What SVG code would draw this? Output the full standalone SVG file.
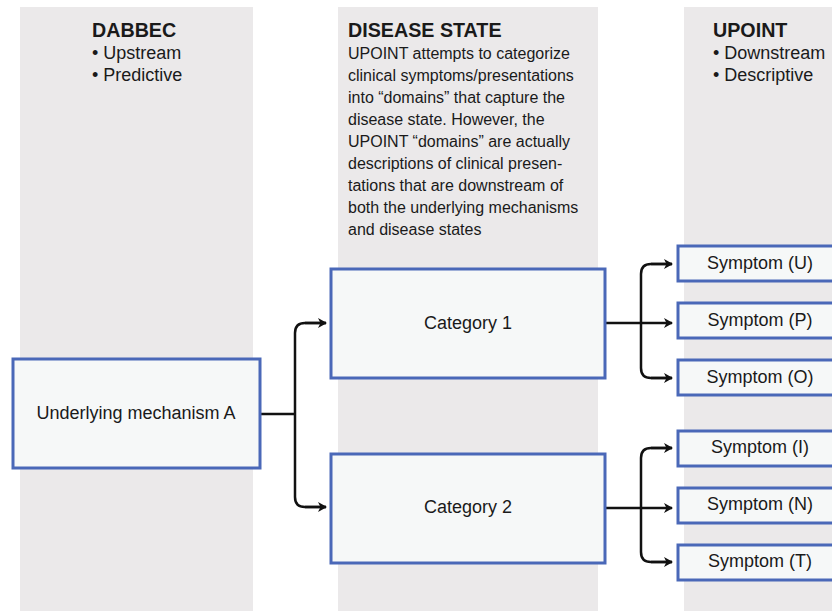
<svg xmlns="http://www.w3.org/2000/svg" width="832" height="611" viewBox="0 0 832 611">
<defs>
<style>
.col{fill:#ebe9ea}
.box{fill:#f6f8f8;stroke:#4a68b8;stroke-width:3}
.t{font-family:"Liberation Sans",Arial,sans-serif;fill:#1a1a1a}
.h{font-size:19.7px;font-weight:bold}
.b{font-size:18px}
.p{font-size:16px}
.n{font-size:18px;text-anchor:middle;dominant-baseline:central}
.c{fill:none;stroke:#111;stroke-width:2.5}
</style>
<marker id="ah" markerWidth="10" markerHeight="10" refX="8" refY="5" orient="auto" markerUnits="userSpaceOnUse">
<path d="M0,0 L9,5 L0,10 L2.5,5 Z" fill="#111"/>
</marker>
</defs>
<rect width="832" height="611" fill="#fff"/>
<rect class="col" x="20" y="7" width="233" height="604"/>
<rect class="col" x="338" y="7" width="260" height="604"/>
<rect class="col" x="684" y="7" width="148" height="604"/>

<g id="header-dabbec" class="t">
<text class="h" x="92" y="37">DABBEC</text>
<text class="b" x="92" y="59">• Upstream</text>
<text class="b" x="92" y="81">• Predictive</text>
</g>
<g id="header-disease" class="t">
<text class="h" x="348" y="37">DISEASE STATE</text>
<text class="p" x="348" y="59">UPOINT attempts to categorize</text>
<text class="p" x="348" y="81">clinical symptoms/presentations</text>
<text class="p" x="348" y="103">into “domains” that capture the</text>
<text class="p" x="348" y="125">disease state. However, the</text>
<text class="p" x="348" y="147">UPOINT “domains” are actually</text>
<text class="p" x="348" y="169">descriptions of clinical presen-</text>
<text class="p" x="348" y="191">tations that are downstream of</text>
<text class="p" x="348" y="213">both the underlying mechanisms</text>
<text class="p" x="348" y="235">and disease states</text>
</g>
<g id="header-upoint" class="t">
<text class="h" x="713" y="37">UPOINT</text>
<text class="b" x="713" y="59">• Downstream</text>
<text class="b" x="713" y="81">• Descriptive</text>
</g>

<g id="connectors">
<path class="c" d="M261,414 H295"/>
<path class="c" d="M326,323 H305 Q295,323 295,333 V497 Q295,507 305,507 H326"/>
<path class="c" d="M305,323 H326" marker-end="url(#ah)"/>
<path class="c" d="M305,507 H326" marker-end="url(#ah)"/>
<path class="c" d="M606,323 H672" marker-end="url(#ah)"/>
<path class="c" d="M672,264 H651 Q641,264 641,274 V368 Q641,378 651,378 H672"/>
<path class="c" d="M651,264 H672" marker-end="url(#ah)"/>
<path class="c" d="M651,378 H672" marker-end="url(#ah)"/>
<path class="c" d="M606,508 H672" marker-end="url(#ah)"/>
<path class="c" d="M672,448 H651 Q641,448 641,458 V552 Q641,562 651,562 H672"/>
<path class="c" d="M651,448 H672" marker-end="url(#ah)"/>
<path class="c" d="M651,562 H672" marker-end="url(#ah)"/>
</g>

<g id="mechanism-a"><rect class="box" x="13" y="359" width="247" height="109"/><text class="t n" x="136" y="413">Underlying mechanism A</text></g>
<g id="category-1"><rect class="box" x="331" y="269" width="274" height="109"/><text class="t n" x="468" y="323">Category 1</text></g>
<g id="category-2"><rect class="box" x="331" y="454" width="274" height="109"/><text class="t n" x="468" y="507">Category 2</text></g>

<g id="symptom-u"><rect class="box" x="678" y="246" width="170" height="35"/><text class="t n" x="760" y="263">Symptom (U)</text></g>
<g id="symptom-p"><rect class="box" x="678" y="303" width="170" height="35"/><text class="t n" x="760" y="320">Symptom (P)</text></g>
<g id="symptom-o"><rect class="box" x="678" y="360" width="170" height="35"/><text class="t n" x="760" y="377">Symptom (O)</text></g>
<g id="symptom-i"><rect class="box" x="678" y="431" width="170" height="35"/><text class="t n" x="760" y="447">Symptom (I)</text></g>
<g id="symptom-n"><rect class="box" x="678" y="488" width="170" height="35"/><text class="t n" x="760" y="504">Symptom (N)</text></g>
<g id="symptom-t"><rect class="box" x="678" y="545" width="170" height="35"/><text class="t n" x="760" y="561">Symptom (T)</text></g>
</svg>
